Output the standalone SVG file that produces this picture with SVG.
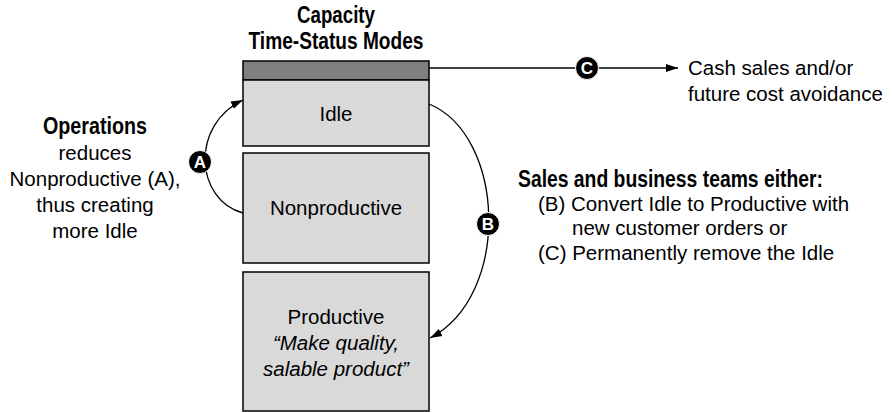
<svg xmlns="http://www.w3.org/2000/svg" width="892" height="413" viewBox="0 0 892 413">
<defs>
<style>
.box{fill:#d9d9d9;stroke:#000;stroke-width:1.5}
.bar{fill:#808080;stroke:#000;stroke-width:1.5}
.t{font-family:"Liberation Sans",Arial,sans-serif;font-size:20.5px;fill:#000}
.b{font-family:"Liberation Sans",Arial,sans-serif;font-weight:bold;font-size:23.5px;fill:#000}
.c{text-anchor:middle}
.i{font-style:italic}
.con{fill:none;stroke:#000;stroke-width:1.3}
.badge circle{fill:#000;stroke:#fff;stroke-width:1}
.badge text{font-family:"Liberation Sans",Arial,sans-serif;font-weight:bold;font-size:17px;fill:#fff;text-anchor:middle}
</style>
<marker id="ah" viewBox="0 0 12 10" refX="12" refY="5" markerWidth="12" markerHeight="10" markerUnits="userSpaceOnUse" orient="auto">
<path d="M0,1 L12,5 L0,9 Z" fill="#000"/>
</marker>
</defs>
<g id="title">
<text class="b c" x="336" y="23" textLength="78" lengthAdjust="spacingAndGlyphs">Capacity</text>
<text class="b c" x="336" y="49" textLength="175" lengthAdjust="spacingAndGlyphs">Time-Status Modes</text>
</g>
<g id="bar"><rect class="bar" x="243" y="61" width="186" height="19"/></g>
<g id="idle"><rect class="box" x="243" y="80" width="186" height="66"/><text class="t c" x="336" y="121">Idle</text></g>
<g id="nonproductive"><rect class="box" x="243" y="153" width="186" height="110"/><text class="t c" x="336" y="215">Nonproductive</text></g>
<g id="productive"><rect class="box" x="243" y="272" width="186" height="139"/>
<text class="t c" x="336" y="324">Productive</text>
<text class="t c i" x="336" y="350">“Make quality,</text>
<text class="t c i" x="336" y="376">salable product”</text>
</g>
<g id="connectors">
<path class="con" d="M243,213 C195,200 190,125 243,100" marker-end="url(#ah)"/>
<path class="con" d="M429,104 C505,135 512,295 430,338" marker-end="url(#ah)"/>
<path class="con" d="M429,68 L678,68" marker-end="url(#ah)"/>
</g>
<g id="badgeA" class="badge"><circle cx="200" cy="162" r="11.5"/><text x="200" y="168">A</text></g>
<g id="badgeB" class="badge"><circle cx="488" cy="224" r="11.5"/><text x="488" y="230">B</text></g>
<g id="badgeC" class="badge"><circle cx="587" cy="68" r="11.5"/><text x="587" y="74">C</text></g>
<g id="operations">
<text class="b c" x="95" y="134" textLength="104" lengthAdjust="spacingAndGlyphs">Operations</text>
<text class="t c" x="95" y="160">reduces</text>
<text class="t c" x="95" y="186">Nonproductive (A),</text>
<text class="t c" x="95" y="212">thus creating</text>
<text class="t c" x="95" y="238">more Idle</text>
</g>
<g id="cash">
<text class="t" x="688" y="75">Cash sales and/or</text>
<text class="t" x="688" y="101">future cost avoidance</text>
</g>
<g id="sales">
<text class="b" x="518" y="187" textLength="305" lengthAdjust="spacingAndGlyphs">Sales and business teams either:</text>
<text class="t" x="538" y="211">(B) Convert Idle to Productive with</text>
<text class="t" x="572" y="235">new customer orders or</text>
<text class="t" x="538" y="260">(C) Permanently remove the Idle</text>
</g>
</svg>
